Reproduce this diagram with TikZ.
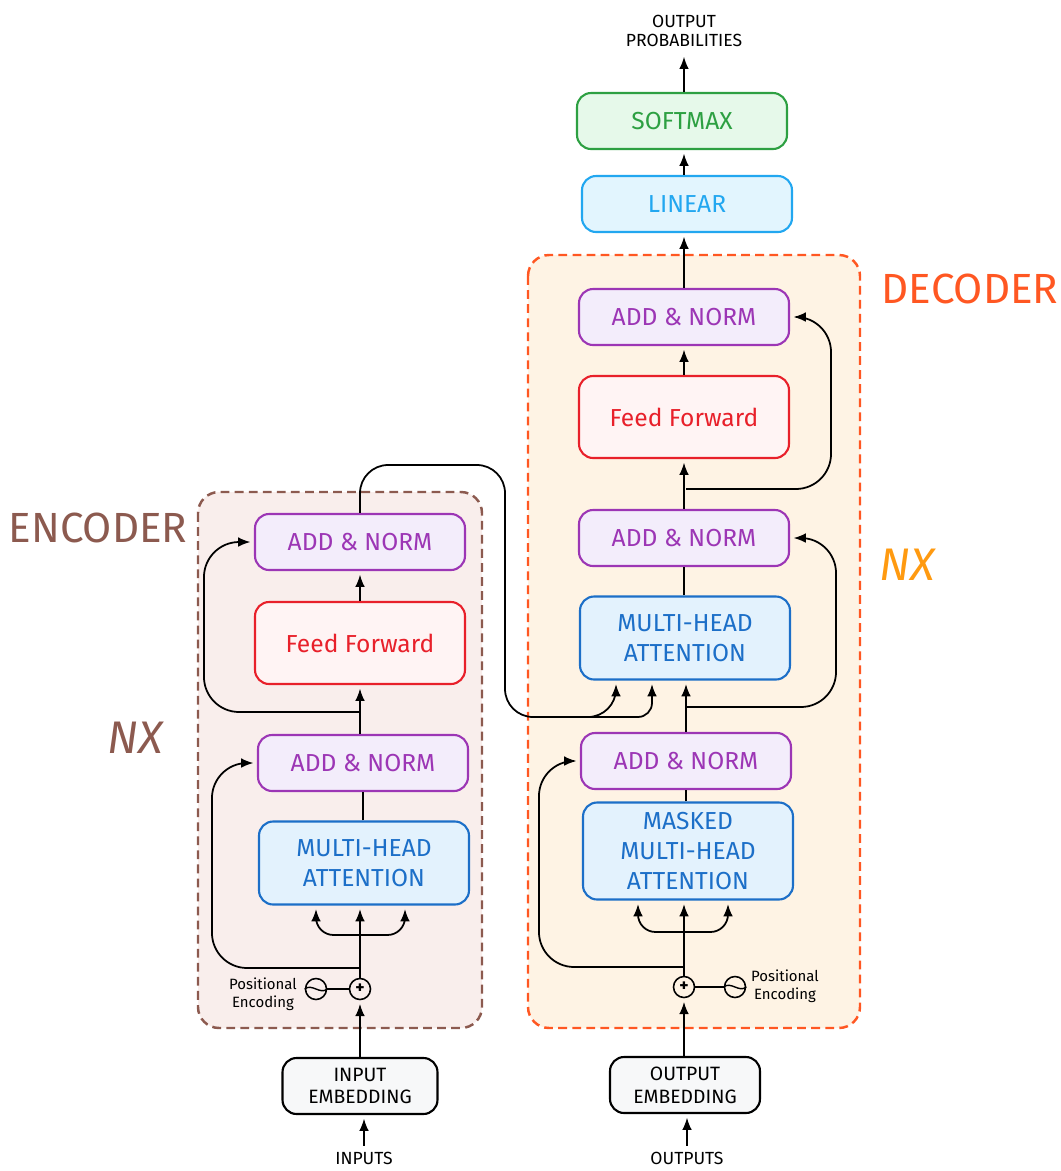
\documentclass[tikz,border=0pt]{standalone}
\usepackage{fontspec}
\setmainfont{Fira Sans}
\usetikzlibrary{arrows.meta,calc}
\definecolor{encbrown}{HTML}{8C5A4F}
\definecolor{encbg}{HTML}{F9EEEC}
\definecolor{decred}{HTML}{FF5722}
\definecolor{decbg}{HTML}{FEF3E4}
\definecolor{nxorange}{HTML}{FF9A10}
\definecolor{anpurple}{HTML}{9C36B5}
\definecolor{anbg}{HTML}{F3EDFB}
\definecolor{ffred}{HTML}{E8202A}
\definecolor{ffbg}{HTML}{FFF4F4}
\definecolor{mhablue}{HTML}{1C6FC8}
\definecolor{mhabg}{HTML}{E3F2FD}
\definecolor{linblue}{HTML}{22A7F0}
\definecolor{linbg}{HTML}{E2F5FE}
\definecolor{smgreen}{HTML}{2DA042}
\definecolor{smbg}{HTML}{E6F9EA}
\definecolor{embbg}{HTML}{F7F8F9}
\begin{document}
\begin{tikzpicture}[x=0.02cm,y=-0.02cm,
    blk/.style={draw,rounded corners=8pt,line width=1.2pt,align=center,
      font=\fontsize{14}{17}\selectfont,minimum width=4.2cm,minimum height=1.12cm},
    addnorm/.style={blk,draw=anpurple,fill=anbg,text=anpurple},
    ffwd/.style={blk,draw=ffred,fill=ffbg,text=ffred,minimum height=1.64cm},
    mha/.style={blk,draw=mhablue,fill=mhabg,text=mhablue,minimum height=1.66cm},
    embed/.style={blk,draw=black,fill=embbg,font=\fontsize{11}{13}\selectfont,
      minimum width=3.1cm,minimum height=1.12cm},
    posdisc/.style={circle,draw,line width=0.9pt,minimum size=0.42cm,inner sep=0pt},
    postext/.style={align=center,font=\fontsize{8.5}{10}\selectfont},
    plain/.style={align=center,font=\fontsize{10}{11}\selectfont},
    frame/.style={dashed,line width=1.4pt,rounded corners=12pt,dash pattern=on 5pt off 3pt},
    arr/.style={-{Latex[length=7pt,width=5.5pt]},line width=1pt,shorten >=2pt},
    wire/.style={line width=1pt}]
    \useasboundingbox (0,0) rectangle (1061,1171);
    \draw[frame,draw=encbrown,fill=encbg] (198,492) rectangle (482,1028);
    \draw[frame,draw=decred,fill=decbg] (528,255) rectangle (860,1028);
    \node[text=encbrown,font=\fontsize{24}{26}\selectfont] (encLabel) at (98,528) {ENCODER};
    \node[text=encbrown,font=\fontsize{26}{28}\selectfont\itshape] (encNx) at (135,738) {NX};
    \node[text=decred,font=\fontsize{24}{26}\selectfont] (decLabel) at (970,289) {DECODER};
    \node[text=nxorange,font=\fontsize{26}{28}\selectfont\itshape] (decNx) at (907,565) {NX};
    % encoder
    \node[addnorm] (encAN2) at (360,542) {ADD \& NORM};
    \node[ffwd] (encFF) at (360,643) {Feed Forward};
    \node[addnorm] (encAN1) at (363,763) {ADD \& NORM};
    \node[mha] (encMHA) at (364,863) {MULTI-HEAD\\ATTENTION};
    \node[posdisc,font=\bfseries] (encPlus) at (360,989) {+};
    \node[posdisc] (encSine) at (316,989) {};
    \node[postext] (encPosText) at (263,994) {Positional\\Encoding};
    \node[embed] (inEmb) at (360,1086) {INPUT\\EMBEDDING};
    \node[plain] (inputs) at (364,1158) {INPUTS};
    % decoder
    \node[embed,minimum width=3cm] (outEmb) at (685,1085) {OUTPUT\\EMBEDDING};
    \node[plain] (outputs) at (687,1158) {OUTPUTS};
    \node[posdisc,font=\bfseries] (decPlus) at (684,987) {+};
    \node[posdisc] (decSine) at (735,987) {};
    \node[postext] (decPosText) at (785,986) {Positional\\Encoding};
    \node[mha,minimum height=1.94cm] (decMMHA) at (688,851) {MASKED\\MULTI-HEAD\\ATTENTION};
    \node[addnorm] (decAN1) at (686,761) {ADD \& NORM};
    \node[mha] (decMHA) at (685,638) {MULTI-HEAD\\ATTENTION};
    \node[addnorm] (decAN2) at (684,538) {ADD \& NORM};
    \node[ffwd] (decFF) at (684,417) {Feed Forward};
    \node[addnorm] (decAN3) at (684,317) {ADD \& NORM};
    \node[blk,draw=linblue,fill=linbg,text=linblue] (linear) at (687,204) {LINEAR};
    \node[blk,draw=smgreen,fill=smbg,text=smgreen] (softmax) at (682,121) {SOFTMAX};
    \node[plain] (probs) at (684,31) {OUTPUT\\PROBABILITIES};
    % sine marks
    \draw[line width=0.8pt] (encSine.west) .. controls ($(encSine.center)+(-4,-6)$) and ($(encSine.center)+(4,6)$) .. (encSine.east);
    \draw[line width=0.8pt] (decSine.west) .. controls ($(decSine.center)+(-4,-6)$) and ($(decSine.center)+(4,6)$) .. (decSine.east);
    % encoder wires
    \coordinate (encSplit) at (360,935);
    \coordinate (encTap1) at (360,968);
    \coordinate (encTap2) at (360,712);
    \draw[arr] (inputs.north) -- (inputs.north |- inEmb.south);
    \draw[arr] (inEmb.north) -- (encPlus.south);
    \draw[wire] (encSine) -- (encPlus);
    \draw[arr] (encPlus.north) -- (encPlus.north |- encMHA.south);
    \draw[arr,rounded corners=10pt] (encSplit) -| ($(encMHA.south)+(-48,0)$);
    \draw[arr,rounded corners=10pt] (encSplit) -| ($(encMHA.south)+(41,0)$);
    \draw[arr,rounded corners=20pt] (encTap1) -| ($(encAN1.west)+(-45,0)$) -- (encAN1.west);
    \draw[wire] (encMHA.north -| encAN1) -- (encAN1.south);
    \draw[arr] (encAN1.north -| encFF) -- (encFF.south);
    \draw[arr,rounded corners=20pt] (encTap2) -| ($(encAN2.west)+(-50,0)$) -- (encAN2.west);
    \draw[arr] (encFF.north) -- (encAN2.south);
    % encoder to decoder
    \coordinate (encOutA) at (505,465);
    \coordinate (encOutB) at (505,717);
    \coordinate (encOutC) at (590,717);
    \draw[arr,rounded corners=16pt] (encAN2.north) |- (encOutA) -- (encOutB) -| ($(decMHA.south)+(-69,0)$);
    \draw[arr,rounded corners=8pt] (encOutC) -| ($(decMHA.south)+(-33,0)$);
    % decoder wires
    \coordinate (decSplit) at (684,932);
    \coordinate (decTap1) at (684,967);
    \coordinate (decTap2) at (686,707);
    \coordinate (decTap3) at (686,489);
    \draw[arr] (outputs.north) -- (outputs.north |- outEmb.south);
    \draw[arr] (outEmb.north -| decPlus) -- (decPlus.south);
    \draw[wire] (decPlus) -- (decSine);
    \draw[arr] (decPlus.north) -- (decPlus.north |- decMMHA.south);
    \draw[arr,rounded corners=10pt] (decSplit) -| ($(decMMHA.south)+(-50,0)$);
    \draw[arr,rounded corners=10pt] (decSplit) -| ($(decMMHA.south)+(40,0)$);
    \draw[arr,rounded corners=20pt] (decTap1) -| ($(decAN1.west)+(-41,0)$) -- (decAN1.west);
    \draw[wire] (decMMHA.north -| decAN1) -- (decAN1.south);
    \draw[arr] (decAN1.north) -- (decAN1.north |- decMHA.south);
    \draw[arr,rounded corners=20pt] (decTap2) -| ($(decAN2.east)+(46,0)$) -- (decAN2.east);
    \draw[wire] (decMHA.north -| decAN2) -- (decAN2.south);
    \draw[arr] (decAN2.north) -- (decFF.south);
    \draw[arr,rounded corners=20pt] (decTap3) -| ($(decAN3.east)+(41,0)$) -- (decAN3.east);
    \draw[arr] (decFF.north) -- (decAN3.south);
    \draw[arr] (decAN3.north) -- (decAN3.north |- linear.south);
    \draw[arr] (linear.north -| decAN3) -- (decAN3.north |- softmax.south);
    \draw[arr] (softmax.north -| probs) -- (probs.south);
\end{tikzpicture}
\end{document}
